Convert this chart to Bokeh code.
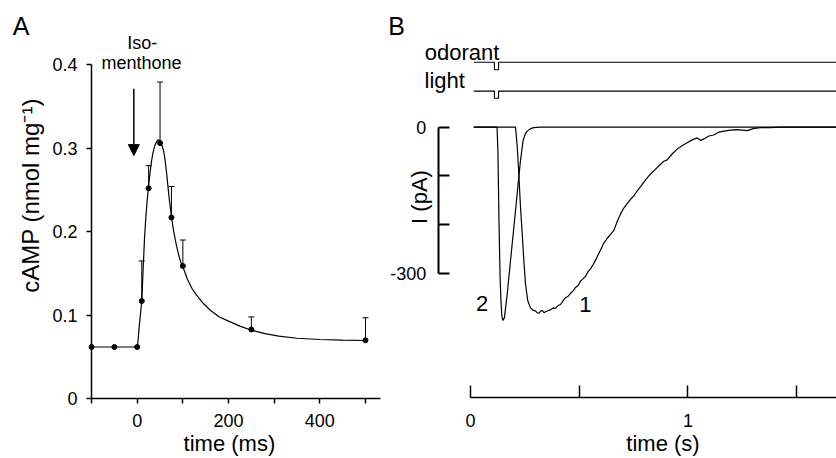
import math
from bokeh.plotting import figure
from bokeh.layouts import row
from bokeh.models import (Range1d, FixedTicker, Whisker, TeeHead, ColumnDataSource,
                          Label, Arrow, NormalHead)
from bokeh.embed import file_html
from bokeh.resources import INLINE

FONT = "Liberation Sans"

# ---------------- Panel A data (cAMP after isomenthone) ----------------
a_time = [-100, -50, 0, 10, 25, 50, 75, 100, 250, 500]
a_camp = [0.062, 0.062, 0.062, 0.117, 0.252, 0.306, 0.217, 0.159, 0.083, 0.070]
a_err_time = [10, 25, 50, 75, 100, 250, 500]
a_err_mean = [0.117, 0.252, 0.306, 0.217, 0.159, 0.083, 0.070]
a_err_top = [0.165, 0.279, 0.379, 0.254, 0.190, 0.098, 0.097]
a_fit_time = [-100, 0, 2, 4, 6, 8, 10, 13, 16, 19, 22, 25, 28, 31, 34, 37, 40, 43, 46,
              49, 52, 55, 58, 61, 64, 67, 70, 73, 76, 80, 85, 90, 95, 100, 110, 120,
              130, 145, 160, 180, 200, 225, 250, 280, 310, 350, 400, 450, 500]
a_fit_camp = [0.062, 0.062, 0.070, 0.084, 0.095, 0.106, 0.117, 0.155, 0.192, 0.218,
              0.238, 0.255, 0.270, 0.283, 0.293, 0.300, 0.305, 0.308, 0.310, 0.309,
              0.305, 0.302, 0.296, 0.286, 0.272, 0.256, 0.240, 0.227, 0.214, 0.200,
              0.186, 0.174, 0.164, 0.158, 0.143, 0.132, 0.124, 0.114, 0.106, 0.098,
              0.093, 0.087, 0.082, 0.078, 0.075, 0.0725, 0.071, 0.0702, 0.0698]
a_xticks = [-100, 0, 100, 200, 300, 400, 500]
a_xtick_labels = ["", "0", "", "200", "", "400", ""]
a_yticks = [0, 0.1, 0.2, 0.3, 0.4]
a_ytick_labels = ["0", "0.1", "0.2", "0.3", "0.4"]

# ---------------- Panel B data (currents) ----------------
b_trace1_t = [0.015, 0.207, 0.215, 0.222, 0.230, 0.238, 0.245, 0.253, 0.263, 0.276,
              0.288, 0.299, 0.306, 0.314, 0.322, 0.330, 0.338, 0.345, 0.356, 0.368,
              0.380, 0.391, 0.403, 0.414, 0.426, 0.437, 0.449, 0.460, 0.472, 0.483,
              0.495, 0.506, 0.518, 0.529, 0.541, 0.552, 0.564, 0.575, 0.587, 0.598,
              0.613, 0.629, 0.644, 0.659, 0.675, 0.690, 0.705, 0.720, 0.736, 0.751,
              0.766, 0.782, 0.805, 0.828, 0.851, 0.874, 0.889, 0.904, 0.927, 0.950,
              0.973, 0.996, 1.019, 1.042, 1.058, 1.073, 1.096, 1.119, 1.142, 1.165,
              1.196, 1.226, 1.249, 1.272, 1.300, 1.333, 1.380, 1.425, 1.70]
b_trace1_i = [0, 0, -40, -95, -165, -220, -272, -322, -356, -371,
              -376, -377, -381, -382, -378, -376, -381, -379, -377, -375,
              -371, -372, -366, -364, -356, -350, -347, -341, -336, -329,
              -325, -316, -311, -306, -296, -291, -282, -273, -262, -252,
              -238, -228, -220, -212, -193, -178, -166, -157, -148, -141,
              -131, -122, -108, -96, -86, -76, -70, -67, -55, -45,
              -38, -32, -26, -22, -27, -24, -18, -16, -10, -8,
              -6, -5, -6, -7, -3, -1, -1, 0, 0]
b_trace2_t = [0.015, 0.122, 0.126, 0.131, 0.136, 0.140, 0.144, 0.149, 0.156, 0.169,
              0.184, 0.207, 0.222, 0.230, 0.242, 0.252, 0.261, 0.276, 0.291, 0.32, 1.70]
b_trace2_i = [0, 0, -48, -192, -308, -356, -387, -397, -391, -342,
              -274, -171, -103, -68, -27, -14, -8, -3, -1, 0, 0]
b_stim_t = [0.015, 0.110, 0.110, 0.129, 0.129, 1.70]
b_stim_level = [0, 0, -1, -1, 0, 0]
b_yticks = [-300, -200, -100, 0]
b_ytick_labels = ["-300", "", "", "0"]
b_xticks = [0, 0.5, 1, 1.5]
b_xtick_labels = ["0", "", "1", ""]

# layout constants (positions in each panel's data space)
ODOR_BASE, ODOR_DEPTH = 133.5, 15.6
LIGHT_BASE, LIGHT_DEPTH = 74.0, 14.4
A_X = (-299.4, 546.0)
A_Y = (-0.0714, 0.4766)
B_X = (-0.3862, 1.6828)
B_Y = (-680.3, 260.2)
B_YAXIS_AT = -0.1485
B_XAXIS_AT = -555.0


def make_fig(w, xr, yr):
    p = figure(width=w, height=458, x_range=Range1d(*xr), y_range=Range1d(*yr),
               output_backend="svg", toolbar_location=None,
               min_border_left=0, min_border_right=0, min_border_top=0, min_border_bottom=0)
    p.grid.visible = False
    p.outline_line_color = None
    for ax in (p.xaxis[0], p.yaxis[0]):
        ax.axis_line_color = "black"
        ax.axis_line_width = 1.5
        ax.major_tick_line_color = "black"
        ax.major_tick_line_width = 1.5
        ax.minor_tick_line_color = None
        ax.major_label_text_font = FONT
        ax.major_label_text_font_size = "18px"
        ax.major_label_text_color = "black"
    return p


def label(p, x, y, text, size, align="center", baseline="middle", angle=0.0):
    p.add_layout(Label(x=x, y=y, text=text, text_font=FONT, text_font_size=size,
                       text_align=align, text_baseline=baseline, angle=angle,
                       text_color="black"))


# ---------------- Panel A ----------------
pA = make_fig(386, A_X, A_Y)
xa, ya = pA.xaxis[0], pA.yaxis[0]
xa.fixed_location = 0
xa.ticker = FixedTicker(ticks=a_xticks)
xa.major_label_overrides = dict(zip(a_xticks, a_xtick_labels))
xa.bounds = (-100, 533)
xa.major_tick_out = 5
xa.major_tick_in = 0
xa.major_label_standoff = 10
ya.fixed_location = -100
ya.ticker = FixedTicker(ticks=a_yticks)
ya.major_label_overrides = dict(zip(a_yticks, a_ytick_labels))
ya.bounds = (0, 0.4)
ya.major_tick_out = 5
ya.major_tick_in = 0
ya.major_label_standoff = 9

pA.line(a_fit_time, a_fit_camp, line_color="black", line_width=1.2)
err_src = ColumnDataSource(dict(t=a_err_time, low=a_err_mean, top=a_err_top))
pA.add_layout(Whisker(source=err_src, base="t", lower="low", upper="top", dimension="height",
                      line_color="black", line_width=1,
                      upper_head=TeeHead(size=6, line_color="black", line_width=1),
                      lower_head=None))
pA.scatter(a_time, a_camp, marker="circle", size=5, color="black")
pA.add_layout(Arrow(end=NormalHead(size=11, fill_color="black", line_color="black"),
                    x_start=-7.4, y_start=0.371, x_end=-7.4, y_end=0.291,
                    line_color="black", line_width=1.5))
label(pA, 11, 0.426, "Iso-", "18px")
label(pA, 9.5, 0.402, "menthone", "18px")
label(pA, -254.5, 0.446, "A", "25px")
label(pA, -233.7, 0.2433, "cAMP (nmol mg\u207b\u00b9)", "24px", angle=math.pi / 2)
label(pA, 202.0, -0.0535, "time (ms)", "22px")

# ---------------- Panel B ----------------
pB = make_fig(450, B_X, B_Y)
xb, yb = pB.xaxis[0], pB.yaxis[0]
xb.fixed_location = B_XAXIS_AT
xb.ticker = FixedTicker(ticks=b_xticks)
xb.major_label_overrides = dict(zip(b_xticks, b_xtick_labels))
xb.bounds = (0, B_X[1])
xb.major_tick_in = 12
xb.major_tick_out = 0
xb.major_label_standoff = 17
yb.fixed_location = B_YAXIS_AT
yb.ticker = FixedTicker(ticks=b_yticks)
yb.major_label_overrides = dict(zip(b_yticks, b_ytick_labels))
yb.bounds = (-300, 0)
yb.major_tick_in = 11
yb.major_tick_out = 0
yb.axis_line_width = 2
yb.major_tick_line_width = 2
yb.major_label_standoff = 12

odor_y = [ODOR_BASE + ODOR_DEPTH * v for v in b_stim_level]
light_y = [LIGHT_BASE + LIGHT_DEPTH * v for v in b_stim_level]
pB.line(b_stim_t, odor_y, line_color="black", line_width=1.1)
pB.line(b_stim_t, light_y, line_color="black", line_width=1.1)
pB.line(b_trace1_t, b_trace1_i, line_color="black", line_width=1.2)
pB.line(b_trace2_t, b_trace2_i, line_color="black", line_width=1.2)

label(pB, -0.2101, 153.4, "odorant", "22px", align="left", baseline="alphabetic")
label(pB, -0.2115, 95.9, "light", "22px", align="left", baseline="alphabetic")
label(pB, -0.2345, -143.3, "I (pA)", "22px", angle=math.pi / 2)
label(pB, 0.0538, -363.0, "2", "22px")
label(pB, 0.5287, -364.0, "1", "22px")
label(pB, -0.340, 208.0, "B", "25px")
label(pB, 0.885, -649.5, "time (s)", "22px")

layout = row(pA, pB)
open("out.html", "w").write(file_html(layout, INLINE))
